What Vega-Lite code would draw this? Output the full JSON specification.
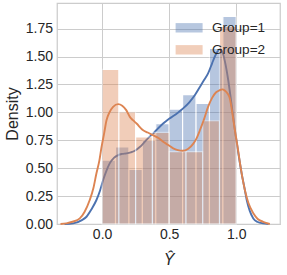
{
  "$schema": "https://vega.github.io/schema/vega-lite/v6.json",
  "width": 223,
  "height": 221,
  "autosize": {"type": "none"},
  "padding": {"left": 57, "top": 3, "right": 7, "bottom": 51},
  "background": "white",
  "datasets": {
    "hist": [
      {"g": "Group=1", "x0": 0.0, "x1": 0.1, "d": 0.573},
      {"g": "Group=1", "x0": 0.1, "x1": 0.2, "d": 0.69},
      {"g": "Group=1", "x0": 0.2, "x1": 0.3, "d": 0.49},
      {"g": "Group=1", "x0": 0.3, "x1": 0.4, "d": 0.75},
      {"g": "Group=1", "x0": 0.4, "x1": 0.5, "d": 0.90},
      {"g": "Group=1", "x0": 0.5, "x1": 0.6, "d": 1.03},
      {"g": "Group=1", "x0": 0.6, "x1": 0.7, "d": 1.16},
      {"g": "Group=1", "x0": 0.7, "x1": 0.8, "d": 1.08},
      {"g": "Group=1", "x0": 0.8, "x1": 0.9, "d": 1.573},
      {"g": "Group=1", "x0": 0.9, "x1": 1.0, "d": 1.86},
      {"g": "Group=2", "x0": 0.0, "x1": 0.125, "d": 1.385},
      {"g": "Group=2", "x0": 0.125, "x1": 0.25, "d": 1.005},
      {"g": "Group=2", "x0": 0.25, "x1": 0.375, "d": 0.78},
      {"g": "Group=2", "x0": 0.375, "x1": 0.5, "d": 0.82},
      {"g": "Group=2", "x0": 0.5, "x1": 0.625, "d": 0.648},
      {"g": "Group=2", "x0": 0.625, "x1": 0.75, "d": 0.648},
      {"g": "Group=2", "x0": 0.75, "x1": 0.875, "d": 0.925},
      {"g": "Group=2", "x0": 0.875, "x1": 1.0, "d": 1.77}
    ],
    "kde": [
      {"g": "Group=1", "x": -0.28, "d": 0.0},
      {"g": "Group=1", "x": -0.216, "d": 0.006},
      {"g": "Group=1", "x": -0.15, "d": 0.035},
      {"g": "Group=1", "x": -0.116, "d": 0.065},
      {"g": "Group=1", "x": -0.08, "d": 0.13},
      {"g": "Group=1", "x": -0.042, "d": 0.215},
      {"g": "Group=1", "x": -0.015, "d": 0.30},
      {"g": "Group=1", "x": 0.008, "d": 0.394},
      {"g": "Group=1", "x": 0.03, "d": 0.47},
      {"g": "Group=1", "x": 0.057, "d": 0.543},
      {"g": "Group=1", "x": 0.09, "d": 0.595},
      {"g": "Group=1", "x": 0.12, "d": 0.618},
      {"g": "Group=1", "x": 0.15, "d": 0.628},
      {"g": "Group=1", "x": 0.182, "d": 0.633},
      {"g": "Group=1", "x": 0.214, "d": 0.642},
      {"g": "Group=1", "x": 0.244, "d": 0.656},
      {"g": "Group=1", "x": 0.281, "d": 0.69},
      {"g": "Group=1", "x": 0.306, "d": 0.72},
      {"g": "Group=1", "x": 0.34, "d": 0.765},
      {"g": "Group=1", "x": 0.38, "d": 0.81},
      {"g": "Group=1", "x": 0.42, "d": 0.86},
      {"g": "Group=1", "x": 0.455, "d": 0.90},
      {"g": "Group=1", "x": 0.49, "d": 0.935},
      {"g": "Group=1", "x": 0.53, "d": 0.967},
      {"g": "Group=1", "x": 0.567, "d": 1.0},
      {"g": "Group=1", "x": 0.604, "d": 1.036},
      {"g": "Group=1", "x": 0.65, "d": 1.09},
      {"g": "Group=1", "x": 0.692, "d": 1.155},
      {"g": "Group=1", "x": 0.73, "d": 1.23},
      {"g": "Group=1", "x": 0.76, "d": 1.29},
      {"g": "Group=1", "x": 0.79, "d": 1.35},
      {"g": "Group=1", "x": 0.82, "d": 1.44},
      {"g": "Group=1", "x": 0.84, "d": 1.50},
      {"g": "Group=1", "x": 0.86, "d": 1.545},
      {"g": "Group=1", "x": 0.878, "d": 1.565},
      {"g": "Group=1", "x": 0.90, "d": 1.53},
      {"g": "Group=1", "x": 0.92, "d": 1.43},
      {"g": "Group=1", "x": 0.94, "d": 1.29},
      {"g": "Group=1", "x": 0.965, "d": 1.07},
      {"g": "Group=1", "x": 0.99, "d": 0.84},
      {"g": "Group=1", "x": 1.015, "d": 0.64},
      {"g": "Group=1", "x": 1.04, "d": 0.454},
      {"g": "Group=1", "x": 1.06, "d": 0.33},
      {"g": "Group=1", "x": 1.078, "d": 0.215},
      {"g": "Group=1", "x": 1.10, "d": 0.12},
      {"g": "Group=1", "x": 1.127, "d": 0.05},
      {"g": "Group=1", "x": 1.16, "d": 0.018},
      {"g": "Group=1", "x": 1.2, "d": 0.006},
      {"g": "Group=1", "x": 1.24, "d": 0.0},
      {"g": "Group=2", "x": -0.31, "d": 0.0},
      {"g": "Group=2", "x": -0.266, "d": 0.006},
      {"g": "Group=2", "x": -0.22, "d": 0.02},
      {"g": "Group=2", "x": -0.166, "d": 0.05},
      {"g": "Group=2", "x": -0.13, "d": 0.11},
      {"g": "Group=2", "x": -0.092, "d": 0.215},
      {"g": "Group=2", "x": -0.065, "d": 0.32},
      {"g": "Group=2", "x": -0.042, "d": 0.454},
      {"g": "Group=2", "x": -0.02, "d": 0.57},
      {"g": "Group=2", "x": -0.004, "d": 0.69},
      {"g": "Group=2", "x": 0.015, "d": 0.81},
      {"g": "Group=2", "x": 0.033, "d": 0.93},
      {"g": "Group=2", "x": 0.055, "d": 1.0},
      {"g": "Group=2", "x": 0.082, "d": 1.05},
      {"g": "Group=2", "x": 0.12, "d": 1.074},
      {"g": "Group=2", "x": 0.15, "d": 1.06},
      {"g": "Group=2", "x": 0.18, "d": 1.02},
      {"g": "Group=2", "x": 0.207, "d": 0.96},
      {"g": "Group=2", "x": 0.23, "d": 0.93},
      {"g": "Group=2", "x": 0.257, "d": 0.90},
      {"g": "Group=2", "x": 0.306, "d": 0.84},
      {"g": "Group=2", "x": 0.34, "d": 0.82},
      {"g": "Group=2", "x": 0.38, "d": 0.795},
      {"g": "Group=2", "x": 0.42, "d": 0.77},
      {"g": "Group=2", "x": 0.455, "d": 0.737},
      {"g": "Group=2", "x": 0.49, "d": 0.71},
      {"g": "Group=2", "x": 0.53, "d": 0.678},
      {"g": "Group=2", "x": 0.565, "d": 0.662},
      {"g": "Group=2", "x": 0.60, "d": 0.656},
      {"g": "Group=2", "x": 0.64, "d": 0.672},
      {"g": "Group=2", "x": 0.68, "d": 0.72},
      {"g": "Group=2", "x": 0.705, "d": 0.77},
      {"g": "Group=2", "x": 0.729, "d": 0.84},
      {"g": "Group=2", "x": 0.76, "d": 0.94},
      {"g": "Group=2", "x": 0.79, "d": 1.05},
      {"g": "Group=2", "x": 0.82, "d": 1.13},
      {"g": "Group=2", "x": 0.85, "d": 1.18},
      {"g": "Group=2", "x": 0.878, "d": 1.20},
      {"g": "Group=2", "x": 0.896, "d": 1.206},
      {"g": "Group=2", "x": 0.915, "d": 1.195},
      {"g": "Group=2", "x": 0.935, "d": 1.17},
      {"g": "Group=2", "x": 0.953, "d": 1.12},
      {"g": "Group=2", "x": 0.97, "d": 1.0},
      {"g": "Group=2", "x": 0.99, "d": 0.84},
      {"g": "Group=2", "x": 1.01, "d": 0.69},
      {"g": "Group=2", "x": 1.028, "d": 0.543},
      {"g": "Group=2", "x": 1.045, "d": 0.42},
      {"g": "Group=2", "x": 1.065, "d": 0.30},
      {"g": "Group=2", "x": 1.09, "d": 0.19},
      {"g": "Group=2", "x": 1.127, "d": 0.096},
      {"g": "Group=2", "x": 1.16, "d": 0.045},
      {"g": "Group=2", "x": 1.20, "d": 0.02},
      {"g": "Group=2", "x": 1.25, "d": 0.0}
    ]
  },
  "encoding": {
    "x": {"type": "quantitative", "scale": {"domain": [-0.336, 1.326], "nice": false, "zero": false}, "axis": {"values": [0, 0.5, 1.0], "format": ".1f", "title": "Ŷ", "titleFontStyle": "italic", "labelPadding": 3.5, "titlePadding": 9.5, "labelOverlap": false}},
    "y": {"type": "quantitative", "scale": {"domain": [0, 1.98], "nice": false}, "axis": {"values": [0, 0.25, 0.5, 0.75, 1.0, 1.25, 1.5, 1.75], "format": ".2f", "title": "Density", "labelPadding": 4.5, "titlePadding": 4.5, "labelOverlap": false}},
    "color": {"field": "g", "type": "nominal", "scale": {"domain": ["Group=1", "Group=2"], "range": ["#4C72B0", "#DD8452"]}, "legend": {"title": null, "orient": "none", "legendX": 125.3, "legendY": 18, "padding": 0, "symbolType": "M-2.7,-0.94H2.7V0.94H-2.7Z", "symbolSize": 100, "symbolOpacity": 0.4, "symbolStrokeWidth": 0, "labelOffset": 16, "labelFont": "Liberation Sans", "labelFontSize": 13.6, "labelColor": "#262626", "rowPadding": 7}}
  },
  "layer": [
    {
      "data": {"name": "hist"},
      "transform": [{"filter": "datum.g === 'Group=1'"}],
      "mark": {"type": "rect", "opacity": 0.4, "stroke": "white", "strokeWidth": 1.2},
      "encoding": {
        "x": {"field": "x0", "type": "quantitative"},
        "x2": {"field": "x1"},
        "y": {"field": "d", "type": "quantitative"},
        "y2": {"datum": 0}
      }
    },
    {
      "data": {"name": "kde"},
      "transform": [{"filter": "datum.g === 'Group=1'"}],
      "mark": {"type": "line", "strokeWidth": 1.9, "interpolate": "monotone"},
      "encoding": {
        "x": {"field": "x", "type": "quantitative"},
        "y": {"field": "d", "type": "quantitative"}
      }
    },
    {
      "data": {"name": "hist"},
      "transform": [{"filter": "datum.g === 'Group=2'"}],
      "mark": {"type": "rect", "opacity": 0.4, "stroke": "white", "strokeWidth": 1.2},
      "encoding": {
        "x": {"field": "x0", "type": "quantitative"},
        "x2": {"field": "x1"},
        "y": {"field": "d", "type": "quantitative"},
        "y2": {"datum": 0}
      }
    },
    {
      "data": {"name": "kde"},
      "transform": [{"filter": "datum.g === 'Group=2'"}],
      "mark": {"type": "line", "strokeWidth": 1.9, "interpolate": "monotone"},
      "encoding": {
        "x": {"field": "x", "type": "quantitative"},
        "y": {"field": "d", "type": "quantitative"}
      }
    }
  ],
  "config": {
    "view": {"stroke": "#cccccc", "strokeWidth": 1.25},
    "legend": {"symbolType": "M-2.7,-0.94H2.7V0.94H-2.7Z"},
    "axis": {"gridColor": "#cccccc", "gridWidth": 1, "domain": false, "ticks": false, "labelOverlap": false, "labelFont": "Liberation Sans", "labelFontSize": 14, "labelColor": "#262626", "titleFont": "Liberation Sans", "titleFontSize": 16, "titleColor": "#262626", "titleFontWeight": "normal"}
  }
}
